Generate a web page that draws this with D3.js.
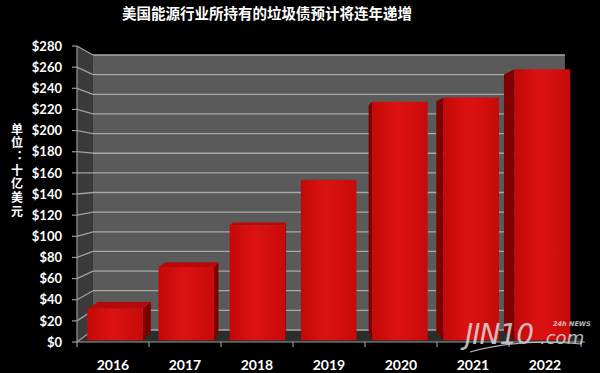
<!DOCTYPE html>
<html><head><meta charset="utf-8">
<script src="https://cdn.jsdelivr.net/npm/d3@7"></script>
<style>html,body{margin:0;padding:0;background:#000;}svg{display:block;}</style>
</head><body>
<svg id="chart" width="600" height="373"></svg>
<script>
// ---- data ----
const title = "美国能源行业所持有的垃圾债预计将连年递增";
const yAxisTitle = "单位：十亿美元";
const categories = ["2016","2017","2018","2019","2020","2021","2022"];
const values = [30, 70, 110, 153, 228, 232, 259];
const yTickValues = [0,20,40,60,80,100,120,140,160,180,200,220,240,260,280];
const yTickLabels = ["$0","$20","$40","$60","$80","$100","$120","$140","$160","$180","$200","$220","$240","$260","$280"];

// ---- layout ----
const svg = d3.select("#chart");
svg.append("rect").attr("width",600).attr("height",373).attr("fill","#000");

const x = d3.scaleBand().domain(categories).range([77, 581]).padding(0);
const y = d3.scaleLinear().domain([0, 280]).range([342, 46]);
const wallLeft = 77, wallRight = 585;
const VP = [302, 173], K = 0.929;
function proj(px, py, z) {
  const s = 1 - z * (1 - K);
  return [VP[0] + (px - VP[0]) * s, VP[1] + (py - VP[1]) * s];
}
const poly = pts => pts.map(p => p.join(",")).join(" ");

const defs = svg.append("defs");
const g1 = defs.append("linearGradient").attr("id","front").attr("x1",0).attr("x2",1).attr("y1",0).attr("y2",0);
g1.append("stop").attr("offset","0%").attr("stop-color","#c40808");
g1.append("stop").attr("offset","45%").attr("stop-color","#dc1212");
g1.append("stop").attr("offset","100%").attr("stop-color","#c80a0a");

// walls
const y0 = y(0), yT = y(280);
svg.append("polygon").attr("points", poly([proj(wallLeft,yT,1),proj(wallRight,yT,1),proj(wallRight,y0,1),proj(wallLeft,y0,1)]))
  .attr("fill","#5a5a5a");
svg.append("polygon").attr("points", poly([proj(wallLeft,yT,0),proj(wallLeft,yT,1),proj(wallLeft,y0,1),proj(wallLeft,y0,0)]))
  .attr("fill","#3a3a3a");
svg.append("polygon").attr("points", poly([proj(wallLeft,y0,0),proj(wallRight,y0,0),proj(wallRight,y0,1),proj(wallLeft,y0,1)]))
  .attr("fill","#2c2c2c");

// gridlines
const grid = svg.append("g");
yTickValues.forEach(v => {
  const a = proj(wallLeft, y(v), 1), b = proj(wallRight, y(v), 1), c = proj(wallLeft, y(v), 0);
  grid.append("line").attr("x1",a[0]).attr("y1",a[1]).attr("x2",b[0]).attr("y2",b[1])
    .attr("stroke","#a8a8a8").attr("stroke-width",1.3);
  grid.append("line").attr("x1",c[0]).attr("y1",c[1]).attr("x2",a[0]).attr("y2",a[1])
    .attr("stroke","#a0a0a0").attr("stroke-width",1.3);
});

// bars
const zF = 0.15, zB = 0.85;
const bars = svg.append("g");
categories.forEach((c, i) => {
  const bw = x.bandwidth();
  const xl = x(c) + bw * 0.11, xr = x(c) + bw * 0.89;
  const yt = y(values[i]), yb = y(0);
  const g = bars.append("g");
  const sideX = ((xl + xr) / 2 < VP[0]) ? xr : xl;
  g.append("polygon").attr("points", poly([proj(sideX,yt,zF),proj(sideX,yt,zB),proj(sideX,yb,zB),proj(sideX,yb,zF)]))
    .attr("fill","#7e0000");
  if (yt > VP[1]) {
    g.append("polygon").attr("points", poly([proj(xl,yt,zF),proj(xr,yt,zF),proj(xr,yt,zB),proj(xl,yt,zB)]))
      .attr("fill","#b80808");
  }
  g.append("polygon").attr("points", poly([proj(xl,yt,zF),proj(xr,yt,zF),proj(xr,yb,zF),proj(xl,yb,zF)]))
    .attr("fill","url(#front)");
});

// axes (front)
const axis = svg.append("g").attr("stroke","#9a9a9a").attr("stroke-width",1.2);
axis.append("line").attr("x1",wallLeft).attr("x2",wallLeft).attr("y1",yT).attr("y2",y0);
axis.append("line").attr("x1",wallLeft).attr("x2",wallRight).attr("y1",y0).attr("y2",y0);
yTickValues.forEach(v => axis.append("line").attr("x1",wallLeft-5).attr("x2",wallLeft).attr("y1",y(v)).attr("y2",y(v)));
categories.concat([null]).forEach((c, i) => {
  const xx = c ? x(c) : x.range()[1];
  axis.append("line").attr("x1",xx).attr("x2",xx).attr("y1",y0).attr("y2",y0+5);
});

// y tick labels
svg.append("g").selectAll("text").data(yTickValues).join("text")
  .attr("x", 62).attr("y", d => y(d)).attr("dy","0.36em")
  .attr("text-anchor","end").attr("fill","#fff")
  .attr("font-family","Lato, 'Open Sans', sans-serif").attr("font-weight","bold").attr("font-size",13)
  .text((d, i) => yTickLabels[i]);

// x labels
svg.append("g").selectAll("text").data(categories).join("text")
  .attr("x", d => x(d) + x.bandwidth()/2).attr("y", 370)
  .attr("text-anchor","middle").attr("fill","#fff")
  .attr("font-family","Lato, 'Open Sans', sans-serif").attr("font-weight","bold").attr("font-size",14)
  .text(d => d);

// y axis title (vertical writing)
svg.append("text").attr("x", 17).attr("y", 123)
  .attr("fill","#fff").attr("font-family","'Noto Sans CJK SC', sans-serif")
  .attr("font-weight","bold").attr("font-size",12)
  .style("writing-mode","vertical-rl").style("text-orientation","upright")
  .style("font-feature-settings","'vert' 0, 'vrt2' 0")
  .attr("letter-spacing",1.7)
  .text(yAxisTitle);

// title
svg.append("text").attr("x", 267).attr("y", 19).attr("text-anchor","middle")
  .attr("fill","#fff").attr("font-family","'Noto Sans CJK SC', sans-serif")
  .attr("font-weight","bold").attr("font-size",14.5).text(title);

// watermark (single text element)
const wm = svg.append("g").attr("opacity",0.85);
const wt = wm.append("text").attr("fill","#d8d8d8")
  .attr("font-family","'DejaVu Sans', sans-serif").attr("font-style","italic");
wt.append("tspan").attr("x",465).attr("y",344).attr("font-size",28).attr("letter-spacing",-1).text("JIN10");
wt.append("tspan").attr("x",540).attr("y",344).attr("font-size",18).text(".com");
wt.append("tspan").attr("x",553).attr("y",326).attr("font-size",6.5).attr("font-weight","bold").text("24h NEWS");
wm.append("path").attr("d","M470,352 Q520,338 582,344").attr("fill","none").attr("stroke","#d0d0d0").attr("stroke-width",1.2);
</script>
</body></html>
